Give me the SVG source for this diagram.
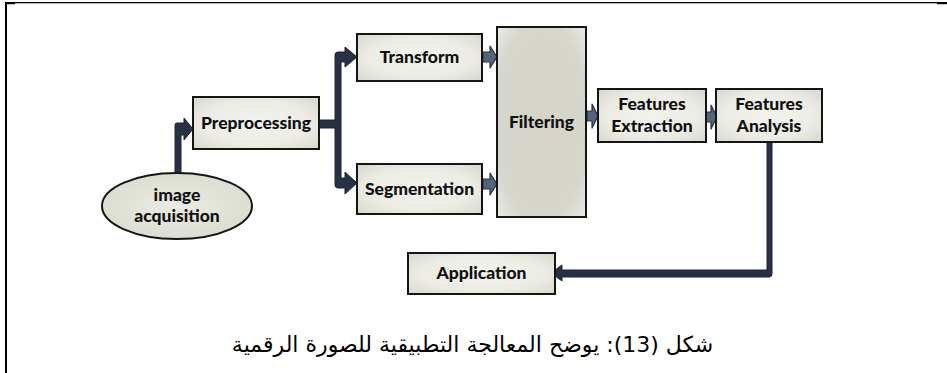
<svg xmlns="http://www.w3.org/2000/svg" width="947" height="373" viewBox="0 0 947 373">
  <defs>
    <radialGradient id="boxFill" cx="50%" cy="50%" r="70%">
      <stop offset="0%" stop-color="#f3f3ee"/>
      <stop offset="60%" stop-color="#ecece5"/>
      <stop offset="100%" stop-color="#d6d7cc"/>
    </radialGradient>
    <radialGradient id="filterFill" cx="50%" cy="50%" r="70%">
      <stop offset="0%" stop-color="#d4d4cb"/>
      <stop offset="75%" stop-color="#d6d6cd"/>
      <stop offset="100%" stop-color="#eaeae4"/>
    </radialGradient>
    <radialGradient id="ovalFill" cx="50%" cy="50%" r="60%">
      <stop offset="0%" stop-color="#eaebe2"/>
      <stop offset="100%" stop-color="#dadbcf"/>
    </radialGradient>
  </defs>
  <style>
    .box { stroke: #151515; stroke-width: 2; }
    .lbl { font-family: Lato, "Open Sans", "Liberation Sans", sans-serif; font-weight: 900; font-size: 17.5px; fill: #111; text-anchor: middle; }
    .trunk { fill: #283043; stroke: #1e2432; stroke-width: 1; stroke-linejoin: round; }
    .step { fill: #56647a; stroke: #2a3242; stroke-width: 1.2; stroke-linejoin: round; }
    .frame { fill: #000; }
    .caption { font-family: "DejaVu Sans", "Noto Sans", sans-serif; font-size: 22px; fill: #000; text-anchor: middle; }
  </style>

  <!-- page frame -->
  <rect class="frame" x="5" y="2" width="2" height="371"/>
  <rect class="frame" x="5" y="2" width="942" height="1.3"/>
  <rect class="frame" x="5" y="2" width="10" height="2.2"/>
  <rect class="frame" x="937" y="2" width="10" height="2.2"/>

  <!-- connectors -->
  <g id="connectors">
    <!-- acquisition to preprocessing (bent arrow) -->
    <path class="trunk" d="M175,175 L175,125 Q175,123 177,123 L184,123 L184,118 L193,129 L184,140 L184,135 L181,135 L181,175 Z"/>
    <!-- preprocessing splits to transform and segmentation -->
    <path class="trunk" d="M319,120 L335,120 L335,55 Q335,52 338,52 L345,52 L345,47 L357,57 L345,67 L345,62 L341,62 L341,178 L345,178 L345,172 L357,183 L345,194 L345,188 L338,188 Q335,188 335,185 L335,128 L319,128 Z"/>
    <!-- transform to filtering -->
    <path class="step" d="M483,52 L490,52 L490,46 L497,57 L490,68 L490,62 L483,62 Z"/>
    <!-- segmentation to filtering -->
    <path class="step" d="M483,179 L490,179 L490,173 L497,184 L490,195 L490,189 L483,189 Z"/>
    <!-- filtering to features extraction -->
    <path class="step" d="M587,111 L592,111 L592,104 L598,116 L592,128 L592,121 L587,121 Z"/>
    <!-- features extraction to features analysis -->
    <path class="step" d="M706,112 L711,112 L711,105 L717,117 L711,129 L711,122 L706,122 Z"/>
    <!-- features analysis down and back to application -->
    <path class="trunk" d="M767,142 L772,142 L772,274 Q772,277 769,277 L562,277 L562,281 L551,273 L562,265 L562,270 L767,270 Z"/>
  </g>

  <g id="acquisition">
    <ellipse cx="177" cy="206" rx="75" ry="33" fill="url(#ovalFill)" stroke="#151515" stroke-width="2"/>
    <text class="lbl" x="177" y="201">image</text>
    <text class="lbl" x="177" y="222">acquisition</text>
  </g>

  <g id="preprocessing">
    <rect class="box" x="193" y="97" width="126" height="52" fill="url(#boxFill)"/>
    <text class="lbl" x="256" y="129">Preprocessing</text>
  </g>

  <g id="transform">
    <rect class="box" x="357" y="34" width="125" height="47" fill="url(#boxFill)"/>
    <text class="lbl" x="419.5" y="63">Transform</text>
  </g>

  <g id="segmentation">
    <rect class="box" x="357" y="164" width="125" height="50" fill="url(#boxFill)"/>
    <text class="lbl" x="419.5" y="195">Segmentation</text>
  </g>

  <g id="filtering">
    <rect class="box" x="497" y="27" width="89" height="190" fill="url(#filterFill)"/>
    <text class="lbl" x="541.5" y="128">Filtering</text>
  </g>

  <g id="features-extraction">
    <rect class="box" x="598" y="89" width="108" height="53" fill="url(#boxFill)"/>
    <text class="lbl" x="652" y="110">Features</text>
    <text class="lbl" x="652" y="132">Extraction</text>
  </g>

  <g id="features-analysis">
    <rect class="box" x="716" y="89" width="106" height="53" fill="url(#boxFill)"/>
    <text class="lbl" x="769" y="110">Features</text>
    <text class="lbl" x="769" y="132">Analysis</text>
  </g>

  <g id="application">
    <rect class="box" x="408" y="253" width="147" height="41" fill="url(#boxFill)"/>
    <text class="lbl" x="481.5" y="279">Application</text>
  </g>

  <text class="caption" x="472.5" y="352" direction="rtl">شكل (13): يوضح المعالجة التطبيقية للصورة الرقمية</text>
</svg>
